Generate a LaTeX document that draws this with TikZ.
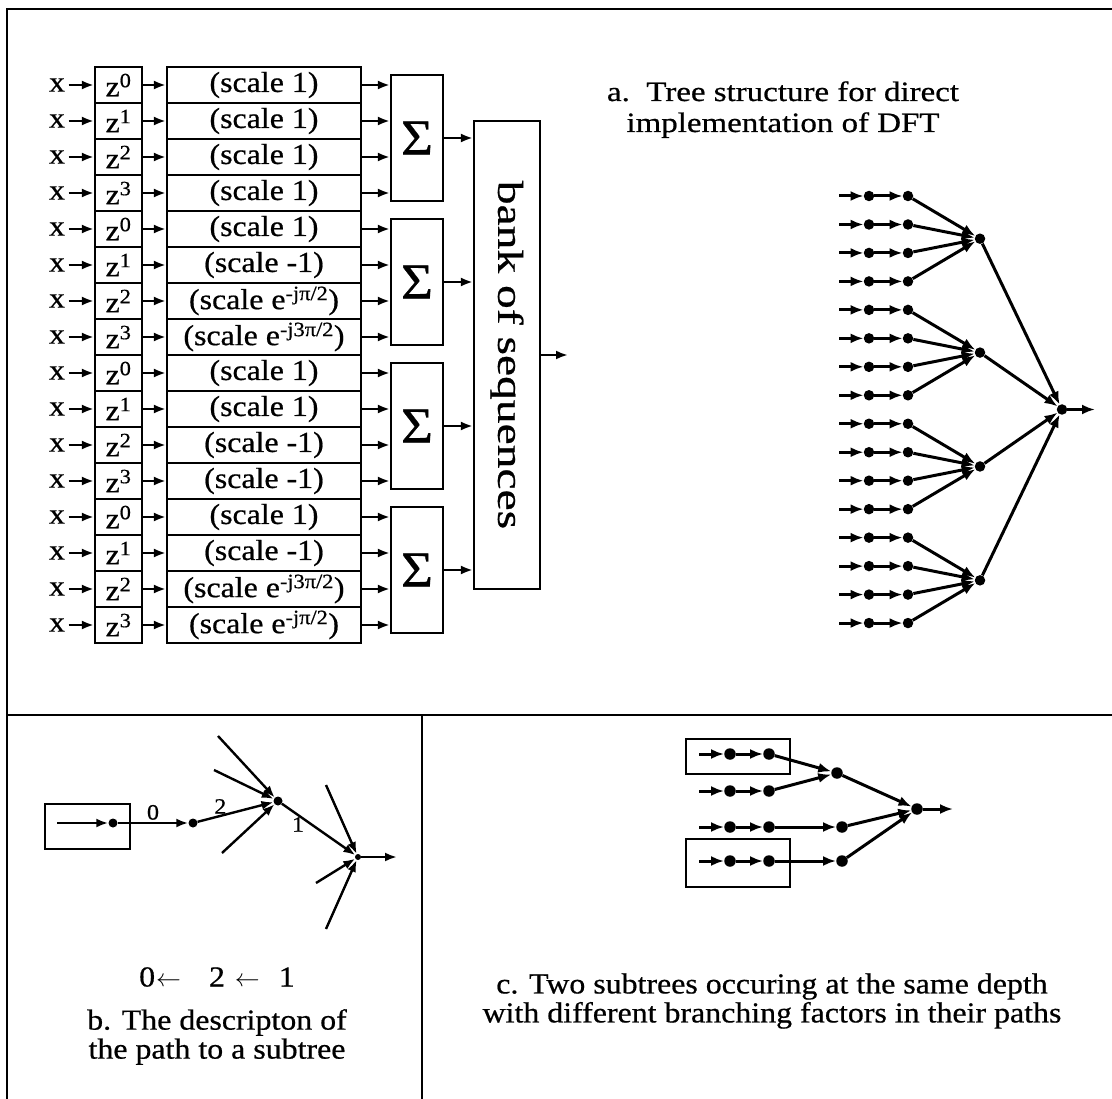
\documentclass[tikz,border=0pt]{standalone}
\usepackage{graphicx}
\usepackage{fontspec}
\setmainfont{Liberation Serif}[FakeStretch=1.1,FakeBold=0.6]
\usetikzlibrary{arrows.meta}
\newcommand\sce[1]{(scale e\textsuperscript{#1})}
\begin{document}
\begin{tikzpicture}[x=1pt,y=-1pt,
  every node/.style={font=\fontsize{29}{29}\selectfont},
  frame/.style={line width=2.5pt},
  box/.style={draw, line width=2.2pt, inner sep=0pt},
  arr/.style={line width=2.4pt, -{Latex[length=12pt,width=9pt]}},
  tarr/.style={line width=3pt, -{Latex[length=13pt,width=10pt]}},
  dot/.style={circle, fill, draw=none, inner sep=0pt, minimum size=10.5pt},
]
\useasboundingbox (0,0) rectangle (1112,1099);
\fill[white] (0,0) rectangle (1112,1099);

% ---------- frame ----------
\coordinate (fTL) at (7,9);
\coordinate (fTR) at (1113,9);
\coordinate (fBL) at (7,1100);
\coordinate (mL) at (7,715);
\coordinate (mR) at (1113,715);
\coordinate (vT) at (422,715);
\coordinate (vB) at (422,1100);
\draw[frame] (fTR) -- (fTL) -- (fBL);
\draw[frame] (mL) -- (mR);
\draw[frame] (vT) -- (vB);

% ---------- block diagram ----------
\foreach \i in {1,...,16}{
  \pgfmathsetmacro\yc{85+36*(\i-1)}
  \pgfmathtruncatemacro\kk{mod(\i-1,4)}
  \node (xl\i) at (57,\yc) {x};
  \node[box, minimum width=47pt, minimum height=36pt] (z\i) at (118.5,\yc) {z\textsuperscript{\kk}};
}
\foreach \i/\txt in {1/{(scale 1)},2/{(scale 1)},3/{(scale 1)},4/{(scale 1)},
  5/{(scale 1)},6/{(scale -1)},7/{\sce{-jπ/2}},8/{\sce{-j3π/2}},
  9/{(scale 1)},10/{(scale 1)},11/{(scale -1)},12/{(scale -1)},
  13/{(scale 1)},14/{(scale -1)},15/{\sce{-j3π/2}},16/{\sce{-jπ/2}}}{
  \pgfmathsetmacro\yc{85+36*(\i-1)}
  \node[box, minimum width=194pt, minimum height=36pt] (s\i) at (264,\yc) {\txt};
}
\foreach \k in {1,...,4}{
  \pgfmathsetmacro\yc{138+144*(\k-1)}
  \node[box, minimum width=52pt, minimum height=126pt, font=\fontsize{50}{50}\selectfont] (S\k) at (417,\yc) {Σ};
}
\node[box, minimum width=66pt, minimum height=468pt] (bank) at (507,355) {};
\node[rotate=-90, font=\fontsize{36}{36}\selectfont] (banklbl) at (bank.center) {\scalebox{1.2}[1]{bank of sequences}};
\coordinate (bout) at (568,355);

\foreach \i in {1,...,16}{
  \pgfmathtruncatemacro\k{int((\i-1)/4)+1}
  \draw[arr] (xl\i.east) -- (z\i.west);
  \draw[arr] (z\i.east) -- (s\i.west);
  \draw[arr] (s\i.east) -- (s\i.east -| S\k.west);
}
\foreach \k in {1,...,4}{
  \draw[arr] (S\k.east) -- (S\k.east -| bank.west);
}
\draw[arr] (bank.east) -- (bout);

% ---------- caption a ----------
\node[anchor=base, inner sep=0pt, font=\fontsize{28}{28}\selectfont] (capA1) at (783,101) {\scalebox{1.07}[1]{a.\ \ Tree structure for direct}};
\node[anchor=base, inner sep=0pt, font=\fontsize{28}{28}\selectfont] (capA2) at (783,132) {\scalebox{1.07}[1]{implementation of DFT}};

% ---------- tree a ----------
\foreach \i in {1,...,16}{
  \pgfmathsetmacro\yy{196+28.47*(\i-1)}
  \coordinate (ta\i) at (839,\yy);
  \node[dot] (tb\i) at (869,\yy) {};
  \node[dot] (tc\i) at (908,\yy) {};
}
\foreach \k in {1,...,4}{
  \pgfmathsetmacro\yy{196+28.47*(4*\k-2.5)}
  \node[dot] (tm\k) at (980,\yy) {};
}
\node[dot] (troot) at (1062,409.5) {};
\coordinate (tout) at (1095,409.5);
\foreach \i in {1,...,16}{
  \pgfmathtruncatemacro\k{int((\i-1)/4)+1}
  \draw[tarr] (ta\i) -- (tb\i);
  \draw[tarr] (tb\i) -- (tc\i);
  \draw[tarr] (tc\i) -- (tm\k);
}
\foreach \k in {1,...,4}{
  \draw[tarr] (tm\k) -- (troot);
}
\draw[tarr] (troot) -- (tout);

% ---------- panel b ----------
\node[box, minimum width=85pt, minimum height=45pt] (bbox) at (87.5,826.5) {};
\coordinate (bs) at (57,823);
\node[dot, minimum size=9pt] (bd1) at (113,823) {};
\node[dot, minimum size=9pt] (bd2) at (193,823) {};
\node[dot, minimum size=9pt] (bA) at (278,801) {};
\node[dot, minimum size=6pt] (bB) at (358,857) {};
\coordinate (bu1) at (218,736);
\coordinate (bu2) at (214,770);
\coordinate (bu3) at (222,853);
\coordinate (bv1) at (326,785);
\coordinate (bv2) at (316,883);
\coordinate (bv3) at (326,929);
\coordinate (bout2) at (397,857);
\draw[arr] (bs) -- (bd1);
\draw[arr] (bd1) -- node[above, inner sep=2pt, font=\fontsize{22}{22}\selectfont] {0} (bd2);
\draw[arr] (bd2) -- node[pos=0.3, above, inner sep=1pt, font=\fontsize{22}{22}\selectfont] {2} (bA);
\draw[arr] (bA) -- node[pos=0.22, below, inner sep=1pt, font=\fontsize{22}{22}\selectfont] {1} (bB);
\draw[arr] (bu1) -- (bA);
\draw[arr] (bu2) -- (bA);
\draw[arr] (bu3) -- (bA);
\draw[arr] (bv1) -- (bB);
\draw[arr] (bv2) -- (bB);
\draw[arr] (bv3) -- (bB);
\draw[arr] (bB) -- (bout2);
\node (bpath) at (217,977) {0\hspace{1pt}$\leftarrow$\hspace{28pt}2\hspace{10pt}$\leftarrow$\hspace{19pt}1};
\node[align=center] (capB) at (217,1037) {b. The descripton of\\the path to a subtree};

% ---------- panel c ----------
\node[box, minimum width=104pt, minimum height=35pt] (cbox1) at (738,756.5) {};
\node[box, minimum width=104pt, minimum height=48pt] (cbox2) at (738,863) {};
\foreach \i/\yy in {1/754,2/791,3/827,4/861}{
  \coordinate (ca\i) at (699,\yy);
  \node[dot, minimum size=11.5pt] (cb\i) at (730,\yy) {};
  \node[dot, minimum size=11.5pt] (cc\i) at (769,\yy) {};
}
\node[dot, minimum size=11.5pt] (cd3) at (842,827) {};
\node[dot, minimum size=11.5pt] (cd4) at (842,861) {};
\node[dot, minimum size=11.5pt] (cM) at (837,773) {};
\node[dot, minimum size=11.5pt] (cR) at (917,809) {};
\coordinate (cout) at (953,809);
\foreach \i in {1,...,4}{
  \draw[tarr] (ca\i) -- (cb\i);
  \draw[tarr] (cb\i) -- (cc\i);
}
\draw[tarr] (cc1) -- (cM);
\draw[tarr] (cc2) -- (cM);
\draw[tarr] (cc3) -- (cd3);
\draw[tarr] (cc4) -- (cd4);
\draw[tarr] (cM) -- (cR);
\draw[tarr] (cd3) -- (cR);
\draw[tarr] (cd4) -- (cR);
\draw[tarr] (cR) -- (cout);
\node[align=center] (capC) at (772,1001) {c. Two subtrees occuring at the same depth\\with different branching factors in their paths};
\end{tikzpicture}
\end{document}
